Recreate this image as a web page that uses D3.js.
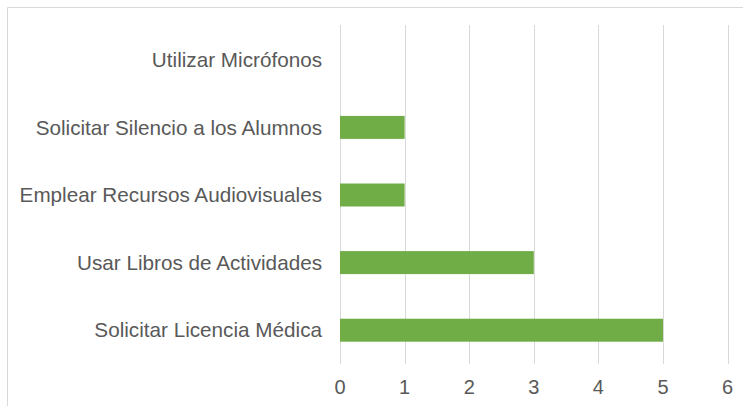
<!DOCTYPE html>
<html>
<head>
<meta charset="utf-8">
<script src="https://cdn.jsdelivr.net/npm/d3@7"></script>
<style>
  body { margin: 0; background: #fff; }
  svg { display: block; font-family: "Liberation Sans", Arial, sans-serif; }
</style>
</head>
<body>
<svg id="chart" width="743" height="406"></svg>
<script>
const categories = [
    'Utilizar Micrófonos',
    'Solicitar Silencio a los Alumnos',
    'Emplear Recursos Audiovisuales',
    'Usar Libros de Actividades',
    'Solicitar Licencia Médica'
];
const values = [0, 1, 1, 3, 5];
const ticks = [0, 1, 2, 3, 4, 5, 6];

const svg = d3.select('#chart');
const margin = { top: 26, right: 15, bottom: 42, left: 340 };
const width = 743, height = 406;

// chart area frame, open on the right and bottom like the source crop
svg.append('path')
    .attr('d', `M7.5,${height}V7.5H${width}`)
    .attr('fill', 'none')
    .attr('stroke', '#d9d9d9')
    .attr('stroke-width', 1);

const x = d3.scaleLinear()
    .domain([0, 6])
    .range([margin.left, margin.left + 6 * 64.6]);

const y = d3.scaleBand()
    .domain(categories)
    .range([margin.top, height - margin.bottom])
    .paddingInner(0.66)
    .paddingOuter(0.33);

svg.append('g')
    .selectAll('line')
    .data(ticks)
    .join('line')
    .attr('x1', d => Math.round(x(d)) + 0.5)
    .attr('x2', d => Math.round(x(d)) + 0.5)
    .attr('y1', margin.top - 1)
    .attr('y2', height - margin.bottom)
    .attr('stroke', '#d9d9d9');

svg.append('g')
    .selectAll('rect')
    .data(categories)
    .join('rect')
    .attr('x', x(0))
    .attr('y', d => y(d))
    .attr('width', (d, i) => x(values[i]) - x(0))
    .attr('height', y.bandwidth())
    .attr('fill', '#70ad47');

svg.append('g')
    .selectAll('text')
    .data(categories)
    .join('text')
    .attr('x', margin.left - 18)
    .attr('y', d => y(d) + y.bandwidth() / 2)
    .attr('dy', '0.35em')
    .attr('text-anchor', 'end')
    .attr('font-size', 20.7)
    .attr('fill', '#595959')
    .text(d => d);

svg.append('g')
    .selectAll('text')
    .data(ticks)
    .join('text')
    .attr('x', d => x(d))
    .attr('y', 387)
    .attr('dy', '0.35em')
    .attr('text-anchor', 'middle')
    .attr('font-size', 20)
    .attr('fill', '#595959')
    .text(d => d);
</script>
</body>
</html>
